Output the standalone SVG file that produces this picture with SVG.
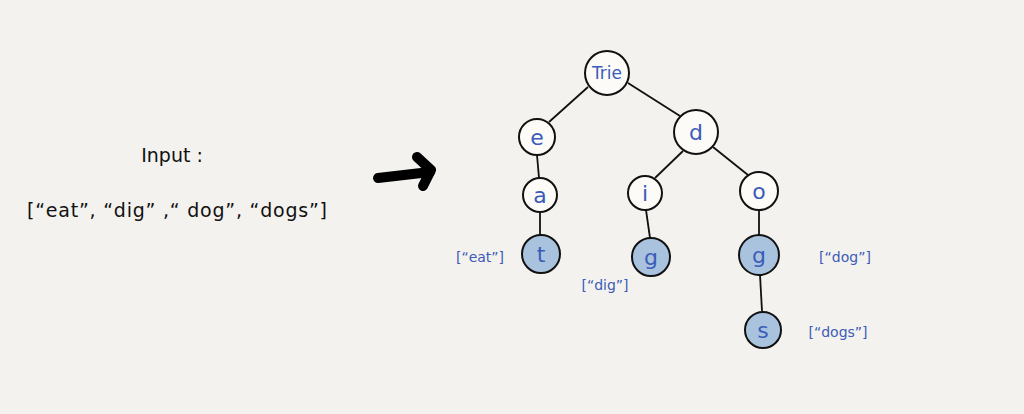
<svg xmlns="http://www.w3.org/2000/svg" width="1024" height="414" viewBox="0 0 1024 414">
<style>
.n{fill:#fcfbf8;stroke:#111;stroke-width:2}
.f{fill:#a9c3df;stroke:#111;stroke-width:2}
.t{font-family:"DejaVu Sans",sans-serif;fill:#3b5cb8;text-anchor:middle;dominant-baseline:central}
.lab{font-family:"DejaVu Sans",sans-serif;fill:#3b5cb8;font-size:14px;text-anchor:middle;dominant-baseline:central}
.in{font-family:"DejaVu Sans",sans-serif;fill:#111;font-size:19px;text-anchor:middle;dominant-baseline:central}
.e{stroke:#111;stroke-width:1.8;fill:none}
</style>
<rect width="1024" height="414" fill="#f4f2ee"/>
<g id="input">
<text class="in" x="172" y="155">Input :</text>
<text class="in" x="177" y="210" textLength="300" lengthAdjust="spacing">[“eat”, “dig” ,“ dog”, “dogs”]</text>
</g>
<g id="arrow">
<path d="M378 178 L430 172" stroke="#000" stroke-width="10" stroke-linecap="round" fill="none"/>
<path d="M417 157 L431 170 L423 186" stroke="#000" stroke-width="10" stroke-linecap="round" stroke-linejoin="round" fill="none"/>
</g>
<g id="connectors">
<line class="e" x1="588" y1="87" x2="549" y2="122"/>
<line class="e" x1="628" y1="83" x2="680" y2="116"/>
<line class="e" x1="537" y1="155" x2="539" y2="178"/>
<line class="e" x1="540" y1="212" x2="540" y2="235"/>
<line class="e" x1="683" y1="151" x2="655" y2="178"/>
<line class="e" x1="713" y1="147" x2="748" y2="175"/>
<line class="e" x1="646" y1="210" x2="650" y2="238"/>
<line class="e" x1="759" y1="210" x2="759" y2="235"/>
<line class="e" x1="760" y1="275" x2="762" y2="311"/>
</g>
<g id="node-trie"><circle class="n" cx="607" cy="73" r="22"/><text class="t" x="607" y="73" font-size="17">Trie</text></g>
<g id="node-e"><circle class="n" cx="537" cy="137" r="18"/><text class="t" x="537" y="137" font-size="22">e</text></g>
<g id="node-d"><circle class="n" cx="696" cy="132" r="22"/><text class="t" x="696" y="132" font-size="22">d</text></g>
<g id="node-a"><circle class="n" cx="540" cy="195" r="17"/><text class="t" x="540" y="195" font-size="22">a</text></g>
<g id="node-i"><circle class="n" cx="645" cy="193" r="17"/><text class="t" x="645" y="193" font-size="22">i</text></g>
<g id="node-o"><circle class="n" cx="759" cy="191" r="19"/><text class="t" x="759" y="191" font-size="22">o</text></g>
<g id="node-t"><circle class="f" cx="541" cy="254" r="19"/><text class="t" x="541" y="254" font-size="22">t</text></g>
<g id="node-g1"><circle class="f" cx="651" cy="257" r="19"/><text class="t" x="651" y="257" font-size="22">g</text></g>
<g id="node-g2"><circle class="f" cx="759" cy="255" r="20"/><text class="t" x="759" y="255" font-size="22">g</text></g>
<g id="node-s"><circle class="f" cx="763" cy="330" r="18"/><text class="t" x="763" y="330" font-size="22">s</text></g>
<g id="labels">
<text class="lab" x="480" y="257">[“eat”]</text>
<text class="lab" x="605" y="285">[“dig”]</text>
<text class="lab" x="845" y="257">[“dog”]</text>
<text class="lab" x="838" y="332">[“dogs”]</text>
</g>
</svg>
